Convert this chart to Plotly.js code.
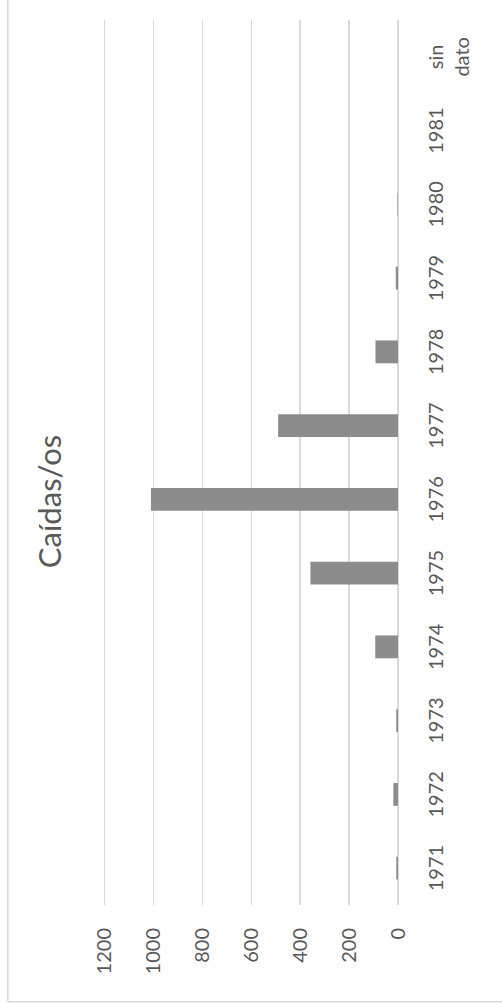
<!DOCTYPE html>
<html>
<head>
<meta charset="utf-8">
<script src="https://cdn.plot.ly/plotly-3.0.1.min.js"></script>
<style>
  html, body { margin: 0; padding: 0; background: #fff; overflow: hidden; }
  #wrap { position: absolute; left: 0; top: 0; width: 502px; height: 1003px; overflow: hidden; }
  #chart { position: absolute; left: 0; top: 0; width: 1003px; height: 502px;
           transform-origin: 0 0; transform: translateY(1003px) rotate(-90deg); }
</style>
</head>
<body>
<div id="wrap"><div id="chart"></div></div>
<script>
const categories = ['1971', '1972', '1973', '1974', '1975', '1976', '1977', '1978', '1979', '1980', '1981', 'sin<br>dato'];
const values = [7, 19, 7, 93, 358, 1010, 490, 92, 9, 2, 0, 0];
const valueTicks = [0, 200, 400, 600, 800, 1000, 1200];
const titleText = 'Caídas/os';

const textColor = '#595959';
const gridColor = '#d9d9d9';
const fontFamily = 'Lato, "Open Sans", sans-serif';

const plotH = 296.25;

const trace = {
  type: 'bar',
  x: categories,
  y: values,
  marker: { color: '#8c8c8c', line: { color: '#8c8c8c', width: 0 } },
  hoverinfo: 'x+y'
};

const layout = {
  width: 1003,
  height: 502,
  margin: { l: 98, r: 20, t: 102.25, b: 103.5, pad: 0 },
  paper_bgcolor: '#ffffff',
  plot_bgcolor: '#ffffff',
  bargap: 0.69,
  showlegend: false,
  font: { family: fontFamily, color: textColor, size: 20 },
  title: {
    text: titleText,
    x: 0.5, xref: 'container', xanchor: 'center',
    y: 1 - 50 / 502, yref: 'container', yanchor: 'middle',
    font: { family: fontFamily, size: 31, color: textColor }
  },
  xaxis: {
    type: 'category',
    showgrid: false,
    showline: false,
    zeroline: false,
    ticks: '',
    ticklabelstandoff: 24,
    tickangle: 0,
    tickfont: { family: fontFamily, size: 20, color: textColor }
  },
  yaxis: {
    range: [0, 1210],
    tickvals: valueTicks,
    ticktext: valueTicks.map(String),
    showgrid: true,
    gridcolor: gridColor,
    gridwidth: 1.3,
    zeroline: true,
    zerolinecolor: gridColor,
    zerolinewidth: 1.3,
    showline: false,
    ticks: '',
    ticklabelstandoff: 22,
    tickfont: { family: fontFamily, size: 20, color: textColor }
  },
  shapes: [
    { type: 'line', xref: 'paper', yref: 'paper',
      x0: (1.3 - 98) / 885, x1: 1.2, y0: (398.5 - 8) / plotH, y1: (398.5 - 8) / plotH,
      line: { color: gridColor, width: 1.5 } },
    { type: 'line', xref: 'paper', yref: 'paper',
      x0: (1.3 - 98) / 885, x1: (1.3 - 98) / 885, y0: (398.5 - 8) / plotH, y1: -0.5,
      line: { color: gridColor, width: 1.5 } }
  ]
};

Plotly.newPlot('chart', [trace], layout, { displayModeBar: false, staticPlot: true });
</script>
</body>
</html>
